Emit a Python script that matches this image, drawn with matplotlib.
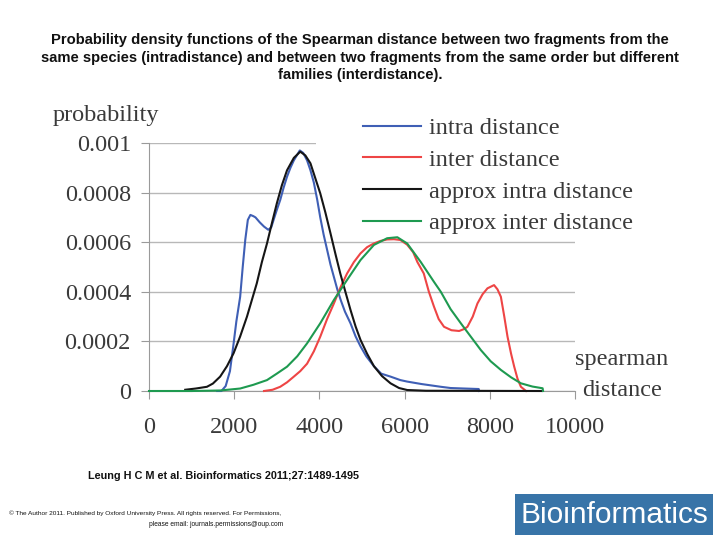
import matplotlib.pyplot as plt
from matplotlib.patches import Rectangle

# values (spearman distance, probability)
intra_x = [1600, 1700, 1800, 1900, 1985, 2050, 2140, 2200, 2260, 2320, 2380, 2450, 2500,
           2600, 2700, 2800, 2870, 2925, 3000, 3080, 3160, 3240, 3320, 3400, 3470, 3540,
           3620, 3710, 3790, 3870, 3950, 4020, 4100, 4180, 4260, 4340, 4420, 4500, 4600,
           4730, 4850, 4965, 5100, 5280, 5450, 5670, 5900, 6060, 6400, 6850, 7080, 7400,
           7740, 7750]
intra_y = [0, 0, 0.00002, 0.00008, 0.00019, 0.00028, 0.00038, 0.0005, 0.00061, 0.00069,
           0.00071, 0.000705, 0.0007, 0.00068, 0.000663, 0.00065, 0.00066, 0.00069, 0.00073,
           0.00077, 0.00082, 0.000864, 0.0009, 0.00093, 0.00095, 0.00097, 0.00096, 0.00093,
           0.00089, 0.00084, 0.00077, 0.0007, 0.00063, 0.00057, 0.00051, 0.00046, 0.00041,
           0.000367, 0.00032, 0.000273, 0.00022, 0.00018, 0.00014, 0.0001, 0.00007, 0.000058,
           0.000044, 0.000038, 0.000028, 0.000017, 0.000012, 0.00001, 0.000008, 0]

inter_x = [2700, 2900, 3080, 3240, 3400, 3550, 3710, 3870, 4020, 4180, 4340, 4500, 4650,
           4810, 4965, 5120, 5280, 5430, 5590, 5750, 5900, 6060, 6200, 6300, 6450, 6570,
           6690, 6800, 6925, 7100, 7280, 7400, 7475, 7600, 7710, 7830, 7945, 8100, 8180,
           8260, 8340, 8416, 8500, 8573, 8650, 8730, 8850]
inter_y = [0, 0.000005, 0.000017, 0.000035, 0.000058, 0.00008, 0.00011, 0.00016, 0.000219,
           0.00029, 0.000353, 0.00042, 0.000474, 0.00052, 0.000555, 0.00058, 0.000595,
           0.000605, 0.000611, 0.000612, 0.000609, 0.00059, 0.00056, 0.00052, 0.000474,
           0.0004, 0.00034, 0.00029, 0.000259, 0.000245, 0.000242, 0.00025, 0.000259, 0.0003,
           0.000353, 0.00039, 0.000414, 0.000427, 0.00041, 0.00038, 0.0003, 0.000219,
           0.00015, 0.000098, 0.00005, 0.000017, 0]

approx_intra_x = [850, 1100, 1360, 1500, 1670, 1830, 1985, 2140, 2300, 2420, 2530, 2650,
                  2770, 2890, 3000, 3120, 3240, 3400, 3550, 3670, 3790, 3900, 4020, 4140,
                  4260, 4380, 4490, 4610, 4730, 4850, 4965, 5120, 5280, 5470, 5670, 5870,
                  6060, 6500, 9200]
approx_intra_y = [0.000005, 0.00001, 0.000017, 0.00003, 0.000058, 0.0001, 0.000152, 0.00022,
                  0.0003, 0.00037, 0.000434, 0.00052, 0.000595, 0.00068, 0.000756, 0.00083,
                  0.00089, 0.00094, 0.000965, 0.00095, 0.000918, 0.00086, 0.000797, 0.00072,
                  0.000636, 0.00055, 0.000474, 0.0004, 0.000327, 0.00026, 0.000206, 0.00015,
                  0.0001, 0.00006, 0.000031, 0.000012, 0.000004, 0.000001, 0]

approx_inter_x = [0, 1000, 1670, 2140, 2450, 2770, 3000, 3240, 3480, 3710, 4020, 4340, 4650,
                  4965, 5280, 5590, 5830, 6060, 6380, 6690, 6850, 7080, 7320, 7550, 7790,
                  8020, 8260, 8500, 8730, 9000, 9240, 9250]
approx_inter_y = [0, 0, 0.000002, 0.00001, 0.000025, 0.000044, 0.00007, 0.000098, 0.00014,
                  0.000192, 0.000273, 0.000367, 0.000448, 0.000528, 0.000589, 0.000616,
                  0.00062, 0.000595, 0.00052, 0.00044, 0.0004, 0.00033, 0.000273, 0.00022,
                  0.000165, 0.00012, 0.000085, 0.000055, 0.000031, 0.000018, 0.000011, 0]

labels = ['intra distance', 'inter distance', 'approx intra distance', 'approx inter distance']
colors = ['#3f5fb5', '#ee4545', '#151515', '#1e9a50']

x_ticks = [0, 2000, 4000, 6000, 8000, 10000]
y_ticks = [0, 0.0002, 0.0004, 0.0006, 0.0008, 0.001]
y_tick_labels = ['0', '0.0002', '0.0004', '0.0006', '0.0008', '0.001']

title = ('Probability density functions of the Spearman distance between two fragments from the\n'
         'same species (intradistance) and between two fragments from the same order but different\n'
         'families (interdistance).')

serif = 'Liberation Serif'
sans = 'Liberation Sans'
txt_col = '#3a3a3a'

fig = plt.figure(figsize=(7.2, 5.4), dpi=100)
ax = fig.add_axes([149 / 720, 1 - 391 / 540, 426 / 720, 248 / 540])

series = [(intra_x, intra_y), (inter_x, inter_y),
          (approx_intra_x, approx_intra_y), (approx_inter_x, approx_inter_y)]
handles = []
for (xs, ys), lab, col in zip(series, labels, colors):
    h, = ax.plot(xs, ys, color=col, lw=1.5, label=lab, zorder=3, clip_on=False)
    handles.append(h)

ax.set_xlim(0, 10000)
ax.set_ylim(0, 0.001)
ax.set_axisbelow(True)
ax.yaxis.grid(True, color='#b8b8b8', lw=1)
# white box behind the legend hides the grid there
ax.add_patch(Rectangle((3930, 0.00066), 6070, 0.0004, facecolor='white',
                       edgecolor='none', zorder=1, clip_on=False))

ax.set_xticks(x_ticks)
ax.set_xticklabels([str(t) for t in x_ticks])
ax.set_yticks(y_ticks)
ax.set_yticklabels(y_tick_labels)
for s in ['top', 'right']:
    ax.spines[s].set_visible(False)
for s in ['left', 'bottom']:
    ax.spines[s].set_color('#9a9a9a')
ax.tick_params(axis='both', direction='out', length=6, color='#9a9a9a',
               labelsize=17.5, labelcolor=txt_col)
ax.tick_params(axis='y', pad=7)
ax.tick_params(axis='x', pad=13)
for lbl in ax.get_xticklabels() + ax.get_yticklabels():
    lbl.set_family(serif)

fig.text(106 / 720, 1 - 116 / 540, 'probability', ha='center', va='center',
         family=serif, fontsize=17.5, color=txt_col)
fig.text(622 / 720, 1 - 360 / 540, 'spearman', ha='center', va='center',
         family=serif, fontsize=17.5, color=txt_col)
fig.text(622 / 720, 1 - 391 / 540, 'distance', ha='center', va='center',
         family=serif, fontsize=17.5, color=txt_col)

fig.legend(handles=handles, loc='upper left', bbox_to_anchor=(351 / 720, 1 - 105 / 540),
           frameon=False, handlelength=2.4, handletextpad=0.3, labelspacing=0.4,
           borderpad=0, prop={'family': serif, 'size': 17.5}, labelcolor=txt_col)

fig.text(0.5, 1 - 33 / 540, title, ha='center', va='top', family=sans,
         fontsize=10.6, fontweight='bold', color='#111111', linespacing=1.33)

fig.text(88 / 720, 1 - 476 / 540, 'Leung H C M et al. Bioinformatics 2011;27:1489-1495',
         ha='left', va='center', family=sans, fontsize=7.8, fontweight='bold', color='#111111')
fig.text(145 / 720, 1 - 513 / 540,
         '\u00a9 The Author 2011. Published by Oxford University Press. All rights reserved. For Permissions,',
         ha='center', va='center', family=sans, fontsize=4.65, color='#111111')
fig.text(283 / 720, 1 - 524 / 540, 'please email: journals.permissions@oup.com',
         ha='right', va='center', family=sans, fontsize=4.75, color='#111111')

fig.patches.append(Rectangle((515 / 720, 1 - 535 / 540), 198 / 720, 41 / 540,
                             transform=fig.transFigure, facecolor='#3874a8',
                             edgecolor='none'))
fig.text(614 / 720, 1 - 515 / 540, 'Bioinformatics', ha='center', va='center',
         family=sans, fontsize=21.5, color='white')

fig.savefig('out.png', dpi=100)
